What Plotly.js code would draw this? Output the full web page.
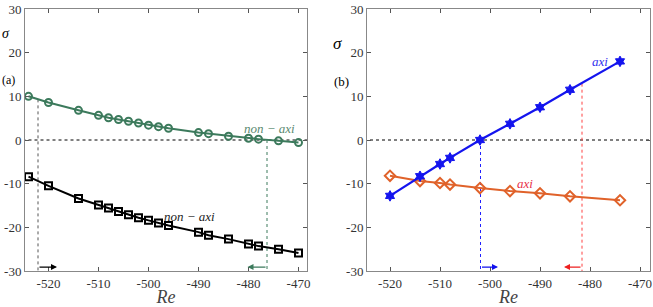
<!DOCTYPE html>
<html><head><meta charset="utf-8">
<script src="https://cdn.plot.ly/plotly-3.0.1.min.js"></script>
<style>html,body{margin:0;padding:0;background:#fff}#c{width:653px;height:307px}</style>
</head><body><div id="c"></div>
<script>
// Panel (a): non-axisymmetric modes
const reA = [-524,-520,-514,-510,-508,-506,-504,-502,-500,-498,-496,-490,-488,-484,-480,-478,-474,-470];
const sigmaNonAxi1 = [10.0,8.6,6.8,5.65,5.1,4.7,4.3,3.9,3.4,3.05,2.7,1.7,1.45,0.85,0.4,0.2,-0.2,-0.6];
const sigmaNonAxi2 = [-8.4,-10.5,-13.4,-14.9,-15.6,-16.4,-17.1,-17.8,-18.4,-19.0,-19.6,-21.1,-21.8,-22.7,-23.8,-24.3,-25.0,-25.9];
// Panel (b): axisymmetric modes
const reB = [-520,-514,-510,-508,-502,-496,-490,-484,-474];
const sigmaAxi1 = [-12.8,-8.3,-5.5,-4.1,0.0,3.7,7.5,11.5,18.0];
const sigmaAxi2 = [-8.2,-9.4,-9.85,-10.2,-11.0,-11.7,-12.2,-12.9,-13.8];
// Marker positions
const vlinesA = [{x:-522.1, y0:9.3, c:'#555'}, {x:-476.3, y0:0, c:'#3c7a5c'}];
const vlinesB = [{x:-501.9, y0:0, c:'#2020ff'}, {x:-481.6, y0:12.9, c:'#ff4040'}];
const arrowsA = [{x0:-522.1, x1:-518.3, c:'#000'}, {x0:-476.3, x1:-480.2, c:'#3c7a5c'}];
const arrowsB = [{x0:-501.9, x1:-498.4, c:'#1010ee'}, {x0:-481.6, x1:-485.2, c:'#ee2020'}];
const xTicks = [-520,-510,-500,-490,-480,-470];
const yTicks = [-30,-20,-10,0,10,20,30];

const green='#3c7a5c', orange='#e0622a', blue='#1414ee';
const serif='Liberation Serif';
const PH = 262; // plot height in px

const traces = [
 {x:reA, y:sigmaNonAxi1, mode:'lines+markers', xaxis:'x', yaxis:'y',
  line:{color:green,width:2}, marker:{symbol:'circle-open',size:7,color:green,line:{width:2,color:green}}},
 {x:reA, y:sigmaNonAxi2, mode:'lines+markers', xaxis:'x', yaxis:'y',
  line:{color:'#000',width:2}, marker:{symbol:'square-open',size:7,color:'#000',line:{width:2,color:'#000'}}},
 {x:reB, y:sigmaAxi2, mode:'lines+markers', xaxis:'x2', yaxis:'y2',
  line:{color:orange,width:2}, marker:{symbol:'diamond-open',size:8,color:orange,line:{width:2,color:orange}}},
 {x:reB, y:sigmaAxi1, mode:'lines+markers', xaxis:'x2', yaxis:'y2',
  line:{color:blue,width:2.2}, marker:{symbol:'hexagram',size:8,color:blue,line:{width:1,color:blue}}}
];

const shapes = [];
const annotations = [];
function addPanel(xr, yr, vl, ar){
  shapes.push({type:'line', xref:xr, yref:yr, x0:-530, x1:-460, y0:0, y1:0, line:{color:'#000',width:1,dash:'dot'}, layer:'below'});
  vl.forEach(v=>shapes.push({type:'line', xref:xr, yref:yr, x0:v.x, x1:v.x, y0:v.y0, y1:-30, line:{color:v.c,width:1,dash:'dot'}, layer:'below'}));
  ar.forEach(a=>annotations.push({xref:xr, yref:yr, x:a.x1, y:-29.1, ax:a.x0, ay:-29.1, axref:xr, ayref:yr,
     showarrow:true, arrowhead:2, arrowsize:1, arrowwidth:1.2, arrowcolor:a.c, text:''}));
}
addPanel('x','y',vlinesA,arrowsA);
addPanel('x2','y2',vlinesB,arrowsB);

annotations.push(
 {xref:'x',yref:'y',x:-470.3,y:2.6,text:'<i>non − axi</i>',showarrow:false,xanchor:'right',font:{family:serif,size:13,color:'#5a8a70'}},
 {xref:'x',yref:'y',x:-491.9,y:-17.6,text:'<i>non − axi</i>',showarrow:false,font:{family:serif,size:13,color:'#222'}},
 {xref:'x2',yref:'y2',x:-478,y:18,text:'<i>axi</i>',showarrow:false,font:{family:serif,size:13,color:'#3030ee'}},
 {xref:'x2',yref:'y2',x:-493,y:-9.9,text:'<i>axi</i>',showarrow:false,font:{family:serif,size:13,color:'#e8304a'}},
 {xref:'paper',yref:'paper',x:337/653,y:1-(43-9)/PH,xanchor:'center',yanchor:'middle',text:'<i>σ</i>',showarrow:false,font:{family:serif,size:17,color:'#000'}},
 {xref:'paper',yref:'paper',x:342/653,y:1-(81-9)/PH,xanchor:'center',yanchor:'middle',text:'(b)',showarrow:false,font:{family:serif,size:13,color:'#000'}},
 {xref:'paper',yref:'paper',x:0,y:1-(80-9)/PH,xanchor:'left',yanchor:'middle',text:'(a)',showarrow:false,font:{family:serif,size:12,color:'#000'}},
 {xref:'paper',yref:'paper',x:0,y:1-(33-9)/PH,xanchor:'left',yanchor:'middle',text:'<i>σ</i>',showarrow:false,font:{family:serif,size:14,color:'#000'}}
);

function xax(domain, range){
  return {domain:domain, range:range, tickvals:xTicks, ticktext:xTicks.map(String), ticks:'inside', ticklen:4, tickcolor:'#555',
    mirror:'ticks', showline:true, linecolor:'#888', linewidth:1, showgrid:false, zeroline:false,
    tickfont:{family:serif,size:13,color:'#333'},
    title:{text:'<i>Re</i>', font:{family:serif,size:18,color:'#444'}, standoff:0}};
}
function yax(domain, anchor){
  return {domain:[0,1], range:[-30,30], anchor:anchor, tickvals:yTicks, ticktext:yTicks.map(String), ticks:'inside', ticklen:4, tickcolor:'#555',
    mirror:'ticks', showline:true, linecolor:'#888', linewidth:1, showgrid:false, zeroline:false,
    tickfont:{family:serif,size:13,color:'#333'}};
}

const layout = {
  width:653, height:307, showlegend:false,
  margin:{l:0,r:0,t:9,b:36},
  paper_bgcolor:'#fff', plot_bgcolor:'#fff',
  xaxis:Object.assign(xax([25/653,307/653],[-524.7,-468.3]),{anchor:'y'}),
  yaxis:yax([0,1],'x'),
  xaxis2:Object.assign(xax([367/653,650/653],[-524.6,-468]),{anchor:'y2'}),
  yaxis2:yax([0,1],'x2'),
  shapes:shapes, annotations:annotations
};
Plotly.newPlot('c', traces, layout, {staticPlot:true});
</script></body></html>
